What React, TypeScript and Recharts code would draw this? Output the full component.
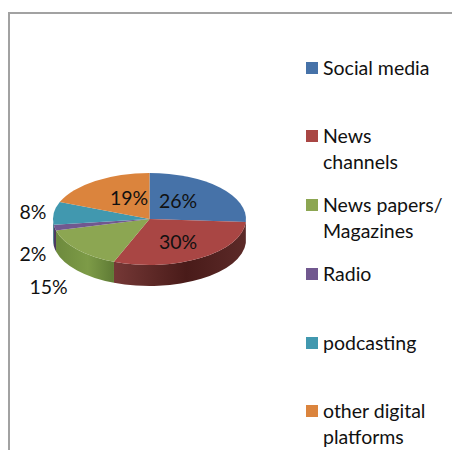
import React from "react";
import { PieChart, Pie, Legend } from "recharts";

const categories = ["Social media", "News channels", "News papers/ Magazines", "Radio", "podcasting", "other digital platforms"];
const shares = [26, 30, 15, 2, 8, 19];
const topColors = ["#4672A8", "#A94644", "#8CA652", "#71588F", "#4198AF", "#DB843D"];
const wallStops = [
  ["#2c4a70", "#2c4a70", "#2c4a70"],
  ["#753836", "#491b19", "#5c2a28"],
  ["#6d8a3d", "#7d9b47", "#5f7b35"],
  ["#4c3a61", "#4c3a61", "#4c3a61"],
  ["#2a6a7c", "#2a6a7c", "#2a6a7c"],
  ["#a05f2a", "#a05f2a", "#a05f2a"],
];

// Line breaks of the legend entries, and the top of each entry.
const legendLines = [["Social media"], ["News", "channels"], ["News papers/", "Magazines"], ["Radio"], ["podcasting"], ["other digital", "platforms"]];
const legendTops = [55, 123, 192, 261, 330, 398];

// Label centres relative to the pie centre.
const labelOffsets = [[28.5, -19], [28.5, 22.5], [-101, 67], [-116.5, 34], [-116.5, -8], [-20.5, -22]];

const WIDTH = 452;
const HEIGHT = 450;
const CX = 149.5;
const CY = 219;
const RADIUS = 96.5;
const SQUASH = 0.477;
const DEPTH = 21;
const FONT = "Lato, Carlito, sans-serif";
const FONT_SIZE = 19.5;

const rows = categories.map((name, i) => ({ name, value: shares[i], fill: topColors[i] }));

// Draws one slice as a tilted ellipse sector with its extruded rim below it.
function TiltedSlice(props: any) {
  const { cx, cy, outerRadius, startAngle, endAngle, fill, index } = props;
  const rx = outerRadius;
  const ry = outerRadius * SQUASH;
  const at = (deg: number, dy = 0) => {
    const r = (deg * Math.PI) / 180;
    return `${cx + rx * Math.cos(r)} ${cy - ry * Math.sin(r) + dy}`;
  };
  const large = Math.abs(startAngle - endAngle) > 180 ? 1 : 0;
  const top = `M ${cx} ${cy} L ${at(startAngle)} A ${rx} ${ry} 0 ${large} 1 ${at(endAngle)} Z`;
  const from = Math.min(startAngle, 0);
  const to = Math.max(endAngle, -180);
  const gradientId = `rim-${index}`;
  const stops = wallStops[index];
  return (
    <g>
      <defs>
        <linearGradient id={gradientId} x1="0" y1="0" x2="1" y2="0">
          <stop offset="0%" stopColor={stops[0]} />
          <stop offset="55%" stopColor={stops[1]} />
          <stop offset="100%" stopColor={stops[2]} />
        </linearGradient>
      </defs>
      {from > to && (
        <path
          d={`M ${at(from)} A ${rx} ${ry} 0 0 1 ${at(to)} L ${at(to, DEPTH)} A ${rx} ${ry} 0 0 0 ${at(from, DEPTH)} Z`}
          fill={`url(#${gradientId})`}
        />
      )}
      <path d={top} fill={fill} />
    </g>
  );
}

function SliceLabel(props: any) {
  const { index, value } = props;
  const [dx, dy] = labelOffsets[index];
  return (
    <text x={CX + dx} y={CY + dy} textAnchor="middle" dominantBaseline="central" fill="#111" fontFamily={FONT} fontSize={FONT_SIZE}>
      {`${value}%`}
    </text>
  );
}

function LegendBlock({ payload }: any) {
  return (
    <div style={{ position: "relative", width: WIDTH, height: HEIGHT }}>
      {(payload || []).map((entry: any, i: number) => (
        <div key={entry.value} style={{ position: "absolute", left: 306, top: legendTops[i], display: "flex" }}>
          <div style={{ width: 12, height: 12, marginTop: 7, marginRight: 5, background: entry.color }} />
          <div style={{ fontFamily: FONT, fontSize: FONT_SIZE, lineHeight: "26px", color: "#111", whiteSpace: "nowrap" }}>
            {legendLines[i].map((line) => (
              <div key={line}>{line}</div>
            ))}
          </div>
        </div>
      ))}
    </div>
  );
}

export default function App() {
  return (
    <div style={{ position: "absolute", left: 0, top: 0, width: WIDTH, height: HEIGHT, overflow: "hidden", background: "#fff" }}>
      <div style={{ position: "absolute", left: 8, top: 12, right: -4, bottom: -4, borderLeft: "2px solid #a2a2a2", borderTop: "2px solid #a2a2a2" }} />
      <PieChart width={WIDTH} height={HEIGHT} margin={{ top: 0, right: 0, bottom: 0, left: 0 }} style={{ position: "absolute", left: 0, top: 0 }}>
        <Pie
          data={rows}
          dataKey="value"
          nameKey="name"
          cx={CX}
          cy={CY}
          outerRadius={RADIUS}
          startAngle={90}
          endAngle={-270}
          stroke="none"
          shape={TiltedSlice}
          label={SliceLabel}
          labelLine={false}
          isAnimationActive={false}
        />
        <Legend content={LegendBlock} itemSorter={null} wrapperStyle={{ position: "absolute", left: 0, top: 0, width: WIDTH, height: HEIGHT }} />
      </PieChart>
    </div>
  );
}
